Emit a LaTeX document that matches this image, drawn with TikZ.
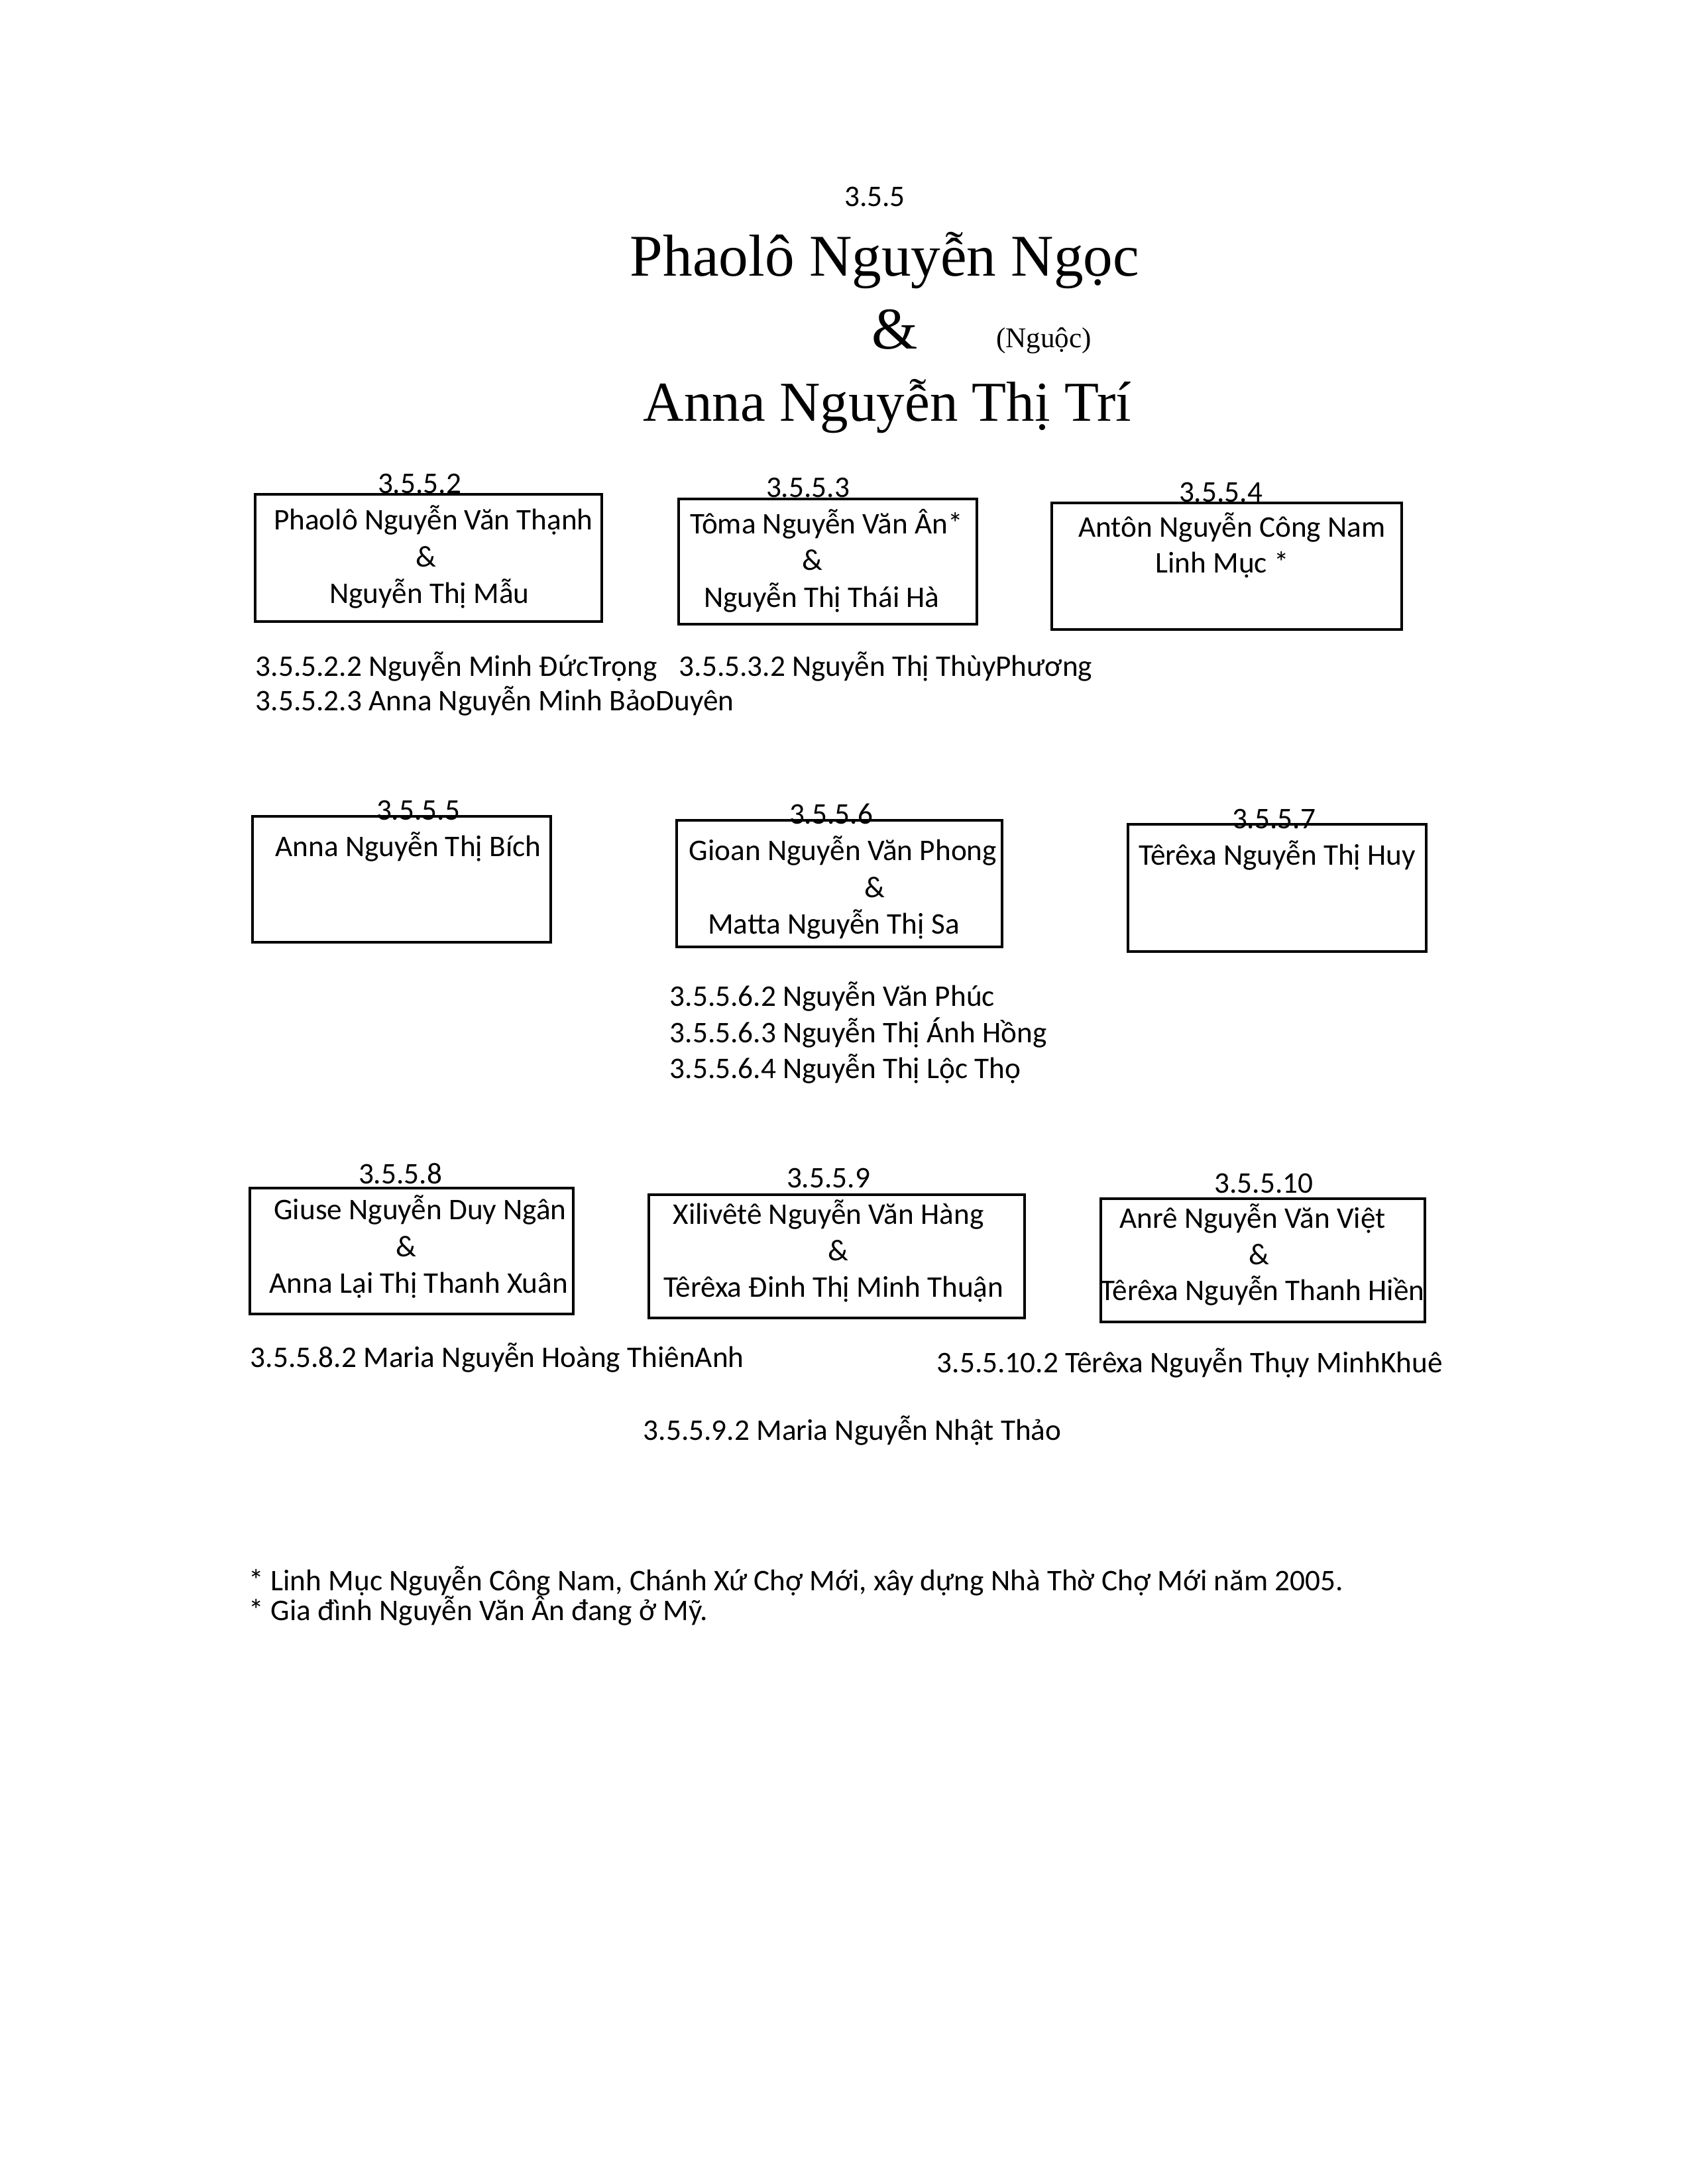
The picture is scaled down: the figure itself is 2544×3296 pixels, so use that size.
\documentclass[tikz,border=0pt]{standalone}
\usepackage{fontspec}
\setmainfont{Carlito}
\newfontfamily\titlefont{Liberation Serif}
\usetikzlibrary{fit}

\begin{document}
\begin{tikzpicture}[x=0.084667mm, y=-0.084667mm,
    txt/.style={inner sep=0pt, anchor=base, font=\fontsize{10.9}{13}\selectfont},
    kid/.style={txt, anchor=base west},
    big/.style={txt, font=\titlefont\fontsize{21.5}{24}\selectfont},
    box/.style={draw, line width=0.9pt, inner sep=0pt}]
  \useasboundingbox (0,0) rectangle (2544,3296);

  % parents
  \node[txt] (num) at (1320,311) {3.5.5};
  \node[big] (him) at (1335,416) {Phaolô Nguyễn Ngọc};
  \node[big] (amp) at (1350,526) {\&};
  \node[txt, font=\titlefont\fontsize{10.4}{12}\selectfont] (nick) at (1575,524) {(Nguộc)};
  \node[big, font=\titlefont\fontsize{20.5}{24}\selectfont] (her) at (1339,635) {Anna Nguyễn Thị Trí};

  % first row
  \node[box, fit={(385,746) (908,938)}] (c2) {};
  \node[txt] (c2n) at (633,744) {3.5.5.2};
  \node[txt] (c2a) at (654,799) {Phaolô Nguyễn Văn Thạnh};
  \node[txt] (c2b) at (643,855) {\&};
  \node[txt] (c2c) at (648,910) {Nguyễn Thị Mẫu};

  \node[box, fit={(1024,753) (1474,942)}] (c3) {};
  \node[txt] (c3n) at (1219,750) {3.5.5.3};
  \node[txt] (c3a) at (1247,805) {Tôma Nguyễn Văn Ân*};
  \node[txt] (c3b) at (1226,860) {\&};
  \node[txt] (c3c) at (1240,916) {Nguyễn Thị Thái Hà};

  \node[box, fit={(1587,759) (2115,950)}] (c4) {};
  \node[txt] (c4n) at (1842,757) {3.5.5.4};
  \node[txt] (c4a) at (1859,810) {Antôn Nguyễn Công Nam};
  \node[txt] (c4b) at (1844,864) {Linh Mục *};

  \node[kid] (g22) at (385,1020) {3.5.5.2.2 Nguyễn Minh ĐứcTrọng};
  \node[kid] (g32) at (1024,1020) {3.5.5.3.2 Nguyễn Thị ThùyPhương};
  \node[kid] (g23) at (385,1072) {3.5.5.2.3 Anna Nguyễn Minh BảoDuyên};

  % second row
  \node[box, fit={(381,1232) (831,1422)}] (c5) {};
  \node[txt] (c5n) at (631,1237) {3.5.5.5};
  \node[txt] (c5a) at (616,1292) {Anna Nguyễn Thị Bích};

  \node[box, fit={(1021,1238) (1512,1429)}] (c6) {};
  \node[txt] (c6n) at (1254,1243) {3.5.5.6};
  \node[txt] (c6a) at (1272,1298) {Gioan Nguyễn Văn Phong};
  \node[txt] (c6b) at (1320,1354) {\&};
  \node[txt] (c6c) at (1258,1409) {Matta Nguyễn Thị Sa};

  \node[box, fit={(1702,1244) (2152,1436)}] (c7) {};
  \node[txt] (c7n) at (1922,1250) {3.5.5.7};
  \node[txt] (c7a) at (1927,1305) {Têrêxa Nguyễn Thị Huy};

  \node[kid] (g62) at (1010,1518) {3.5.5.6.2 Nguyễn Văn Phúc};
  \node[kid] (g63) at (1010,1573) {3.5.5.6.3 Nguyễn Thị Ánh Hồng};
  \node[kid] (g64) at (1010,1627) {3.5.5.6.4 Nguyễn Thị Lộc Thọ};

  % third row
  \node[box, fit={(377,1793) (865,1983)}] (c8) {};
  \node[txt] (c8n) at (604,1786) {3.5.5.8};
  \node[txt] (c8a) at (634,1840) {Giuse Nguyễn Duy Ngân};
  \node[txt] (c8b) at (613,1896) {\&};
  \node[txt] (c8c) at (632,1951) {Anna Lại Thị Thanh Xuân};

  \node[box, fit={(979,1803) (1546,1989)}] (c9) {};
  \node[txt] (c9n) at (1250,1792) {3.5.5.9};
  \node[txt] (c9a) at (1250,1847) {Xilivêtê Nguyễn Văn Hàng};
  \node[txt] (c9b) at (1265,1902) {\&};
  \node[txt] (c9c) at (1258,1957) {Têrêxa Đinh Thị Minh Thuận};

  \node[box, fit={(1661,1809) (2150,1995)}] (c10) {};
  \node[txt] (c10n) at (1907,1800) {3.5.5.10};
  \node[txt] (c10a) at (1890,1853) {Anrê Nguyễn Văn Việt};
  \node[txt] (c10b) at (1900,1908) {\&};
  \node[txt] (c10c) at (1905,1962) {Têrêxa Nguyễn Thanh Hiền};

  \node[kid] (g82) at (377,2063) {3.5.5.8.2 Maria Nguyễn Hoàng ThiênAnh};
  \node[kid] (g102) at (1413,2071) {3.5.5.10.2 Têrêxa Nguyễn Thụy MinhKhuê};
  \node[kid] (g92) at (970,2173) {3.5.5.9.2 Maria Nguyễn Nhật Thảo};

  % notes
  \node[kid] (note1) at (375,2400) {* Linh Mục Nguyễn Công Nam, Chánh Xứ Chợ Mới, xây dựng Nhà Thờ Chợ Mới năm 2005.};
  \node[kid] (note2) at (375,2445) {* Gia đình Nguyễn Văn Ân đang ở Mỹ.};
\end{tikzpicture}
\end{document}
